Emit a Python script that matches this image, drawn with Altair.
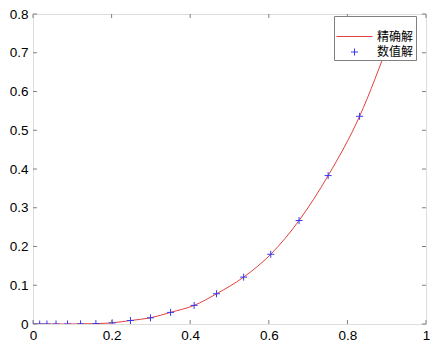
import altair as alt
import pandas as pd

# numerical solution points
x_num = [0, 0.017, 0.0355, 0.0586, 0.0878, 0.121, 0.160, 0.2015, 0.248, 0.299,
         0.350, 0.410, 0.467, 0.536, 0.605, 0.677, 0.751, 0.831, 0.91]
y_num = [0, 0, 0, 0, 0, 0.0003, 0.001, 0.003, 0.009, 0.016,
         0.030, 0.048, 0.078, 0.121, 0.180, 0.267, 0.383, 0.536, 0.74]
# exact solution curve (evaluated at the same nodes; ends behind the legend)
x_exact = list(x_num)
y_exact = list(y_num)

x_ticks = [0, 0.2, 0.4, 0.6, 0.8, 1]
y_ticks = [0, 0.1, 0.2, 0.3, 0.4, 0.5, 0.6, 0.7, 0.8]
series_names = ["精确解", "数值解"]

W, H = 393, 310
GRAY = "#808080"
RED = "#e34040"
BLUE = "#3838f0"
TICK = 4

exact_df = pd.DataFrame({"x": x_exact, "y": y_exact, "series": series_names[0]})
num_df = pd.DataFrame({"x": x_num, "y": y_num, "series": series_names[1]})
xt_df = pd.DataFrame({"x": x_ticks})
yt_df = pd.DataFrame({"y": y_ticks})

xscale = alt.Scale(domain=[0, 1], nice=False, zero=False)
yscale = alt.Scale(domain=[0, 0.8], nice=False, zero=False)

axis_common = dict(ticks=False, domain=False, grid=False, labelFontSize=13.5,
                   labelFont="Liberation Sans", labelColor="#000000", title=None,
                   format="~g", labelFlush=False, labelOverlap=False)
xaxis = alt.Axis(values=x_ticks, labelPadding=4, **axis_common)
yaxis = alt.Axis(values=y_ticks, labelPadding=5, **axis_common)

color_scale = alt.Scale(domain=series_names, range=[RED, BLUE])
shape_scale = alt.Scale(domain=series_names, range=["M-1,0L1,0", "M-1,0L1,0M0,-1L0,1"])
size_scale = alt.Scale(domain=series_names, range=[1296, 49])

legend = alt.Legend(title=None, orient="none", legendX=301, legendY=2, fillColor="white",
                    strokeColor=GRAY, padding=2, labelFont="Noto Sans CJK SC",
                    labelFontSize=12, labelColor="#000000", labelOffset=4,
                    symbolStrokeWidth=1, rowPadding=3)

X = alt.X("x:Q", scale=xscale, axis=xaxis)
Y = alt.Y("y:Q", scale=yscale, axis=yaxis)

line = alt.Chart(exact_df).mark_line(strokeWidth=1, clip=True, interpolate="monotone").encode(
    x=X, y=Y,
    color=alt.Color("series:N", scale=color_scale, legend=legend),
)

points = alt.Chart(num_df).mark_point(filled=False, strokeWidth=1, clip=True, opacity=1).encode(
    x=X, y=Y,
    color=alt.Color("series:N", scale=color_scale, legend=legend),
    shape=alt.Shape("series:N", scale=shape_scale, legend=legend),
    size=alt.Size("series:N", scale=size_scale, legend=legend),
)

bx = alt.Chart(xt_df).mark_rule(color=GRAY, strokeWidth=1).encode(
    x=X, y=alt.value(H), y2=alt.value(H - TICK))
tx = alt.Chart(xt_df).mark_rule(color=GRAY, strokeWidth=1).encode(
    x=X, y=alt.value(0), y2=alt.value(TICK))
ly = alt.Chart(yt_df).mark_rule(color=GRAY, strokeWidth=1).encode(
    y=Y, x=alt.value(0), x2=alt.value(TICK))
ry = alt.Chart(yt_df).mark_rule(color=GRAY, strokeWidth=1).encode(
    y=Y, x=alt.value(W - TICK), x2=alt.value(W))

chart = alt.layer(line, points, bx, tx, ly, ry).properties(
    width=W, height=H,
    autosize=alt.AutoSizeParams(type="none"),
    padding={"left": 25, "top": 6, "right": 4, "bottom": 17},
).configure_view(stroke=GRAY, strokeWidth=1).configure(background="white")

chart.save("out.html", embed_options={"renderer": "svg", "actions": False})
